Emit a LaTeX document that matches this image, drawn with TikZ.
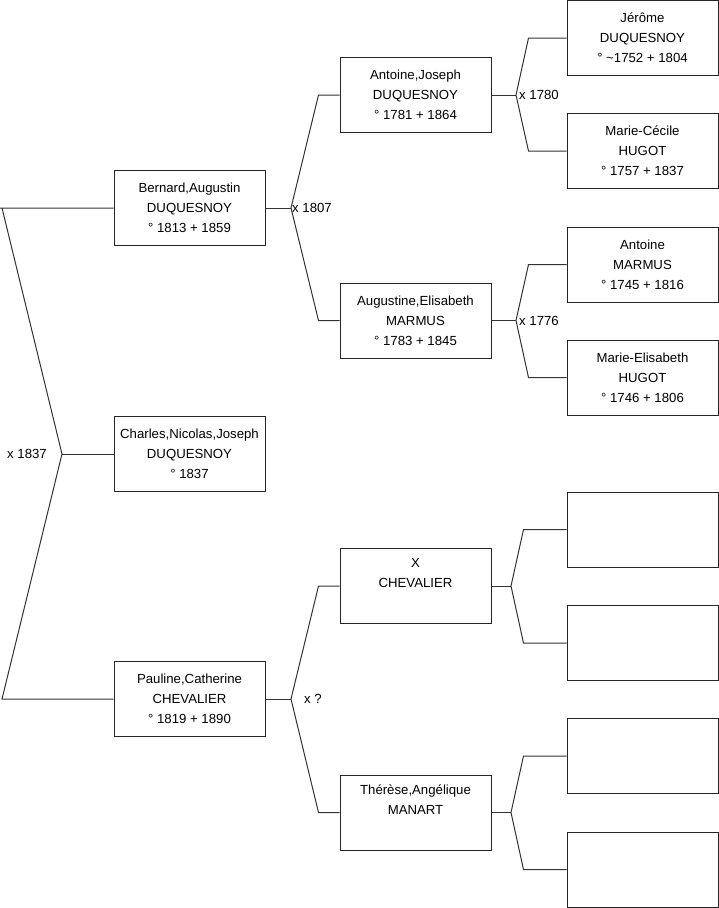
\documentclass[tikz,border=0pt]{standalone}
\usepackage{fontspec}
\setmainfont{Liberation Sans}
\usepackage{tikz}
\usetikzlibrary{positioning}

\tikzset{
  person/.style={draw=black!85, line width=1pt, minimum width=151pt, minimum height=75pt,
    inner sep=0pt, align=center, font=\fontsize{13.2}{20}\selectfont},
  link/.style={draw=black!80, line width=1pt},
  marr/.style={inner sep=0pt, font=\fontsize{13.2}{16}\selectfont}
}

\begin{document}
\begin{tikzpicture}[x=1pt, y=-1pt]

    \useasboundingbox (0,0) rectangle (719,908);

    % first generation
    \node[person] (Bernard) at (189.5,208) {Bernard,Augustin\\DUQUESNOY\\° 1813 + 1859};
    \node[person] (Charles) at (189.5,454) {Charles,Nicolas,Joseph\\DUQUESNOY\\° 1837};
    \node[person] (Pauline) at (189.5,699) {Pauline,Catherine\\CHEVALIER\\° 1819 + 1890};

    % parents
    \node[person] (AntJos) at (415.5,95) {Antoine,Joseph\\DUQUESNOY\\° 1781 + 1864};
    \node[person] (AugEli) at (415.5,320.5) {Augustine,Elisabeth\\MARMUS\\° 1783 + 1845};
    \node[person] (XChev) at (415.5,586) {X\\CHEVALIER\\\strut};
    \node[person] (TheAng) at (415.5,812.5) {Thérèse,Angélique\\MANART\\\strut};

    % grandparents
    \node[person] (Jerome) at (642.5,38) {Jérôme\\DUQUESNOY\\° \textasciitilde 1752 + 1804};
    \node[person] (MarCec) at (642.5,151) {Marie-Cécile\\HUGOT\\° 1757 + 1837};
    \node[person] (AntMar) at (642.5,264.5) {Antoine\\MARMUS\\° 1745 + 1816};
    \node[person] (MarEli) at (642.5,377.5) {Marie-Elisabeth\\HUGOT\\° 1746 + 1806};
    \node[person] (blankA) at (642.5,529.5) {};
    \node[person] (blankB) at (642.5,643) {};
    \node[person] (blankC) at (642.5,756) {};
    \node[person] (blankD) at (642.5,869.5) {};

    % marriage points
    \coordinate (m1837) at (62,454);
    \coordinate (m1807) at (291,208);
    \coordinate (mPau) at (291,699);
    \coordinate (m1780) at (516,95);
    \coordinate (m1776) at (516,320.5);
    \coordinate (mXC) at (511,586);
    \coordinate (mTA) at (511,812.5);

    % links
    \draw[link] (Bernard.west) -- (0,208) (2,208) -- (m1837) -- (2,699) -- (Pauline.west);
    \draw[link] (m1837) -- (Charles.west);

    \draw[link] (Bernard.east) -- (m1807);
    \draw[link] (AntJos.west) -- ([xshift=-21pt]AntJos.west) -- (m1807) -- ([xshift=-21pt]AugEli.west) -- (AugEli.west);
    \draw[link] (Pauline.east) -- (mPau);
    \draw[link] (XChev.west) -- ([xshift=-21pt]XChev.west) -- (mPau) -- ([xshift=-21pt]TheAng.west) -- (TheAng.west);

    \draw[link] (AntJos.east) -- (m1780);
    \draw[link] (Jerome.west) -- ([xshift=-38pt]Jerome.west) -- (m1780) -- ([xshift=-38pt]MarCec.west) -- (MarCec.west);
    \draw[link] (AugEli.east) -- (m1776);
    \draw[link] (AntMar.west) -- ([xshift=-38pt]AntMar.west) -- (m1776) -- ([xshift=-38pt]MarEli.west) -- (MarEli.west);
    \draw[link] (XChev.east) -- (mXC);
    \draw[link] (blankA.west) -- ([xshift=-43pt]blankA.west) -- (mXC) -- ([xshift=-43pt]blankB.west) -- (blankB.west);
    \draw[link] (TheAng.east) -- (mTA);
    \draw[link] (blankC.west) -- ([xshift=-43pt]blankC.west) -- (mTA) -- ([xshift=-43pt]blankD.west) -- (blankD.west);

    % marriage labels
    \node[marr, left=15pt of m1837] (l1837) {x 1837};
    \node[marr, right=1pt of m1807] (l1807) {x 1807};
    \node[marr, right=13pt of mPau] (lPau) {x ?};
    \node[marr, right=3pt of m1780] (l1780) {x 1780};
    \node[marr, right=3pt of m1776] (l1776) {x 1776};

\end{tikzpicture}
\end{document}
